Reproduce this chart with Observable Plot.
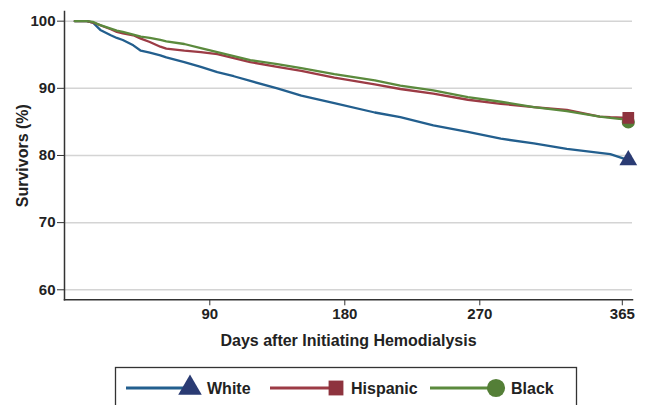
<!DOCTYPE html>
<html>
<head>
<meta charset="utf-8">
<script src="https://cdn.jsdelivr.net/npm/d3@7"></script>
<script src="https://cdn.jsdelivr.net/npm/@observablehq/plot@0.6"></script>
<style>
  html, body { margin: 0; padding: 0; background: #fff; }
  #wrap { position: relative; width: 647px; height: 405px; overflow: hidden; font-family: 'Liberation Sans', Arial, sans-serif; }
  #legend { position: absolute; left: 0; top: 362px; }
</style>
</head>
<body>
<div id="wrap"></div>
<script>
const seriesNames = ["White", "Hispanic", "Black"];
const lineColors = ["#235f8e", "#9c3b45", "#5b8a3d"];
const markerColors = ["#2a3b73", "#8e333e", "#547f37"];
const markerSymbols = ["triangle", "square", "circle"];

const days = [0, 8, 12, 17, 24, 28, 32, 39, 44, 50, 57, 61, 73, 84, 95, 106, 117, 135, 151, 173, 200, 217, 239, 262, 284, 306, 328, 350, 357, 369];
const white = [100, 100, 99.8, 98.7, 97.9, 97.5, 97.2, 96.4, 95.6, 95.3, 94.9, 94.6, 93.9, 93.2, 92.4, 91.8, 91.1, 90.0, 88.9, 87.8, 86.4, 85.7, 84.5, 83.5, 82.5, 81.8, 81.0, 80.4, 80.2, 79.3];
const hispanic = [100, 100, 99.8, 99.4, 98.8, 98.4, 98.2, 97.9, 97.4, 96.9, 96.2, 95.9, 95.6, 95.4, 95.1, 94.5, 93.9, 93.2, 92.6, 91.6, 90.6, 89.9, 89.2, 88.3, 87.7, 87.2, 86.8, 85.8, 85.7, 85.6];
const black = [100, 100, 99.9, 99.4, 98.9, 98.6, 98.4, 98.0, 97.7, 97.5, 97.2, 97.0, 96.6, 96.0, 95.4, 94.8, 94.2, 93.6, 93.0, 92.1, 91.2, 90.4, 89.7, 88.7, 88.0, 87.2, 86.6, 85.8, 85.6, 85.3];

const endDay = 369;
const endValues = [79.3, 85.6, 85.0];

const xTicks = [90, 180, 270, 365];
const yTicks = [60, 70, 80, 90, 100];
const xTitle = "Days after Initiating Hemodialysis";
const yTitle = "Survivors (%)";

const seriesValues = [white, hispanic, black];
const tables = seriesValues.map((vals, i) => days.map((d, j) => ({series: seriesNames[i], day: d, value: vals[j]})));
const ends = seriesNames.map((s, i) => ({series: s, day: endDay, value: endValues[i], symbol: markerSymbols[i], color: markerColors[i]}));
// circle first, then square, then triangle
const drawOrder = [2, 1, 0];

const plot = Plot.plot({
  width: 647,
  height: 362,
  marginLeft: 64,
  marginRight: 15,
  marginTop: 11,
  marginBottom: 62.7,
  style: {fontFamily: "'Liberation Sans', Arial, sans-serif", fontSize: "15px", fontWeight: "bold", color: "#222", background: "#fff"},
  x: {domain: [-6.87, 371.8]},
  y: {domain: [58.51, 101.44]},
  marks: [
    Plot.gridY(yTicks, {stroke: "#d4d4d4", strokeOpacity: 1, strokeWidth: 1.5}),
    Plot.axisY(yTicks, {tickSize: 7, tickPadding: 2, label: null, stroke: "#333", fontSize: 15}),
    Plot.axisX(xTicks, {tickSize: 6, tickPadding: 3, label: null, stroke: "#333", fontSize: 15}),
    Plot.frame({anchor: "left", stroke: "#333", strokeWidth: 1.5}),
    Plot.frame({anchor: "bottom", stroke: "#333", strokeWidth: 1.5}),
    ...tables.map((t, i) => Plot.line(t, {x: "day", y: "value", stroke: lineColors[i], strokeWidth: 2.3})),
    ...drawOrder.map(i => Plot.dot([ends[i]], {x: "day", y: "value", symbol: markerSymbols[i], fill: markerColors[i], r: 6.6, stroke: "none"})),
    Plot.text([xTitle], {frameAnchor: "bottom", dy: 46, fontSize: 16, fontWeight: "bold", fill: "#222"}),
    Plot.text([yTitle], {frameAnchor: "left", dx: -42, rotate: -90, textAnchor: "middle", fontSize: 16, fontWeight: "bold", fill: "#222"})
  ]
});
document.getElementById("wrap").appendChild(plot);

// Legend
const leg = d3.select("#wrap").append("svg")
  .attr("id", "legend").attr("width", 647).attr("height", 43);
leg.append("rect").attr("x", 115.5).attr("y", 5.5).attr("width", 461).attr("height", 60)
  .attr("fill", "#fff").attr("stroke", "#333").attr("stroke-width", 1.3);
const legItems = [
  {x0: 126, x1: 190, tx: 207},
  {x0: 270, x1: 336, tx: 351},
  {x0: 430, x1: 496, tx: 511}
];
const legSizes = [240, 220, 260];
const cy = 26;
seriesNames.forEach((s, i) => {
  const it = legItems[i];
  leg.append("line").attr("x1", it.x0).attr("x2", it.x1).attr("y1", cy).attr("y2", cy)
    .attr("stroke", lineColors[i]).attr("stroke-width", 3);
  const sym = {triangle: d3.symbolTriangle, square: d3.symbolSquare, circle: d3.symbolCircle}[markerSymbols[i]];
  leg.append("path").attr("d", d3.symbol(sym, legSizes[i])())
    .attr("transform", `translate(${it.x1},${cy})`)
    .attr("fill", markerColors[i]);
  leg.append("text").attr("x", it.tx).attr("y", cy).attr("dy", "0.35em")
    .attr("font-family", "'Liberation Sans', Arial, sans-serif").attr("font-weight", "bold")
    .attr("font-size", 16).attr("fill", "#222").text(s);
});
</script>
</body>
</html>
